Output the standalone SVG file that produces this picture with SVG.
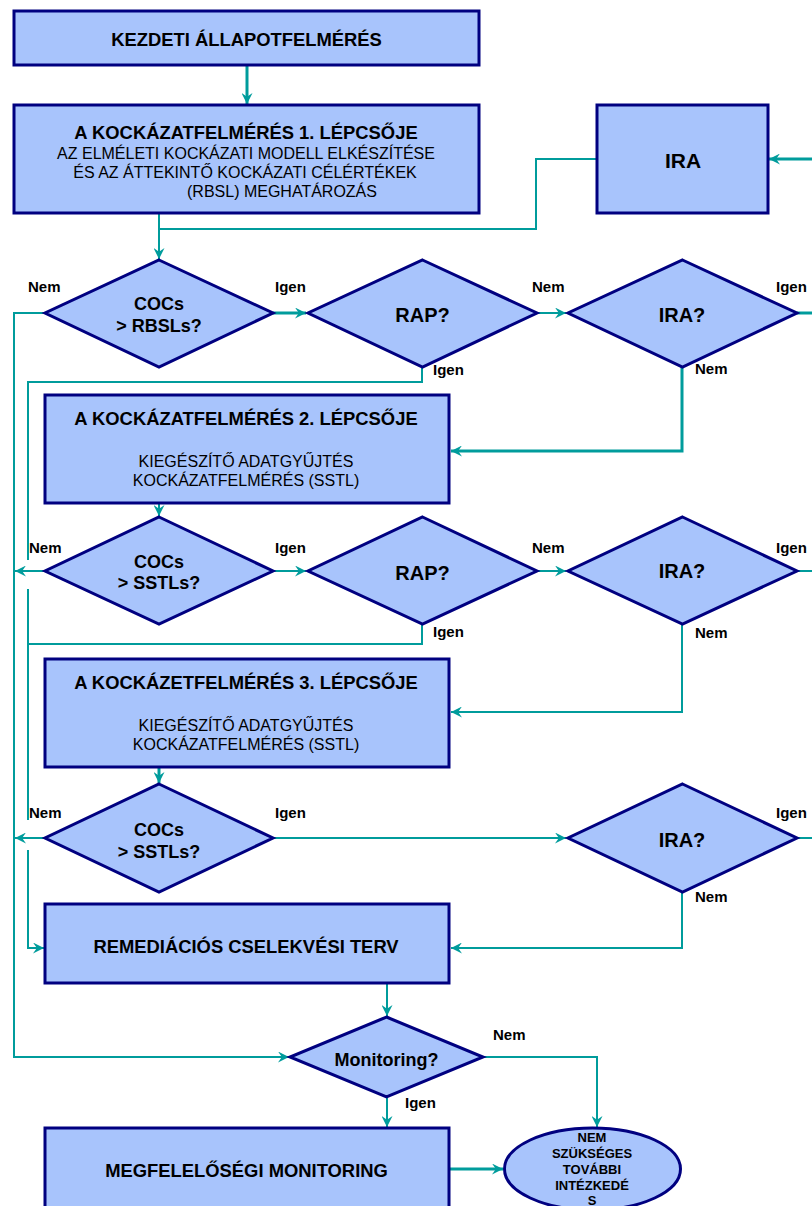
<svg xmlns="http://www.w3.org/2000/svg" width="812" height="1206" viewBox="0 0 812 1206">
  <style>
    .box { fill: #A8C4FC; stroke: #000080; stroke-width: 3; }
    .dia { fill: #A8C4FC; stroke: #000080; stroke-width: 3; stroke-linejoin: miter; }
    .ln { fill: none; stroke: #009C9C; stroke-width: 2; }
    .lnb { fill: none; stroke: #009C9C; stroke-width: 3; }
    .arr { marker-end: url(#ah); }
    text { font-family: "Liberation Sans", Arial, sans-serif; fill: #000; }
    .t { font-size: 18.4px; font-weight: bold; text-anchor: middle; }
    .s { font-size: 16px; text-anchor: middle; }
    .q { font-size: 18px; font-weight: bold; text-anchor: middle; }
    .qb { font-size: 20px; font-weight: bold; text-anchor: middle; }
    .lb { font-size: 15px; font-weight: bold; }
    .e { font-size: 13px; font-weight: bold; text-anchor: middle; }
  </style>
  <defs>
    <marker id="ah" markerUnits="userSpaceOnUse" markerWidth="11" markerHeight="11" viewBox="0 0 10 10" refX="10" refY="5" orient="auto">
      <path d="M0,0 L10,5 L0,10 L3.5,5 Z" fill="#009C9C"/>
    </marker>
  </defs>

  <rect width="812" height="1206" fill="#FFFFFF"/>

  <!-- connectors -->
  <g id="connectors">
    <path class="lnb arr" d="M247,65 V104"/>
    <path class="ln arr" d="M159,213 V259"/>
    <path class="ln" d="M597,159 H536 V229 H159"/>
    <path class="lnb arr" d="M812,159 H769"/>

    <!-- row 1 -->
    <path class="lnb arr" d="M273,313 H306"/>
    <path class="ln arr" d="M537,313 H566"/>
    <path class="lnb" d="M797,313 H812"/>
    <path class="ln arr" d="M45,313 H14 V1057 H289"/>
    <path class="ln" d="M422,367 V382 H28 V560"/>
    <path class="ln" d="M28,589 V820"/>
    <path class="ln arr" d="M28,850 V948 H44"/>
    <path class="lnb arr" d="M682,367 V451 H451"/>

    <!-- row 2 -->
    <path class="ln arr" d="M159,503 V516"/>
    <path class="ln arr" d="M45,571 H15"/>
    <path class="ln arr" d="M273,571 H306"/>
    <path class="ln arr" d="M537,571 H566"/>
    <path class="ln" d="M797,571 H812"/>
    <path class="ln" d="M422,624 V644 H28"/>
    <path class="ln arr" d="M682,624 V712 H451"/>

    <!-- row 3 -->
    <path class="lnb arr" d="M159,767 V783"/>
    <path class="ln arr" d="M45,838 H15"/>
    <path class="ln arr" d="M273,838 H566"/>
    <path class="ln" d="M797,838 H812"/>
    <path class="ln arr" d="M682,892 V948 H451"/>

    <!-- monitoring -->
    <path class="ln arr" d="M387,983 V1016"/>
    <path class="ln arr" d="M483,1057 H597 V1127"/>
    <path class="ln arr" d="M387,1097 V1127"/>
    <path class="lnb arr" d="M449,1169 H503"/>
  </g>

  <!-- nodes -->
  <g id="kezdeti">
    <rect class="box" x="14" y="11" width="465" height="54"/>
    <text class="t" x="246.5" y="45.5">KEZDETI ÁLLAPOTFELMÉRÉS</text>
  </g>

  <g id="lepcso1">
    <rect class="box" x="14" y="105" width="465" height="108"/>
    <text class="t" x="246" y="138.5">A KOCKÁZATFELMÉRÉS 1. LÉPCSŐJE</text>
    <text class="s" x="246" y="159">AZ ELMÉLETI KOCKÁZATI MODELL ELKÉSZÍTÉSE</text>
    <text class="s" x="245" y="178">ÉS AZ ÁTTEKINTŐ KOCKÁZATI CÉLÉRTÉKEK</text>
    <text class="s" x="282" y="197">(RBSL) MEGHATÁROZÁS</text>
  </g>

  <g id="ira-box">
    <rect class="box" x="597" y="105" width="171" height="108"/>
    <text class="qb" x="683" y="168" style="font-size:21px">IRA</text>
  </g>

  <!-- decision row 1 -->
  <g id="cocs-rbsl">
    <polygon class="dia" points="159,260 273,313 159,367 45,313"/>
    <text class="q" x="159" y="309.5">COCs</text>
    <text class="q" x="159" y="331.5">&gt; RBSLs?</text>
  </g>
  <g id="rap1">
    <polygon class="dia" points="422.5,260 537,313 422.5,367 308,313"/>
    <text class="qb" x="422.5" y="322">RAP?</text>
  </g>
  <g id="ira1">
    <polygon class="dia" points="682.5,260 797,313 682.5,367 568,313"/>
    <text class="qb" x="682" y="322">IRA?</text>
  </g>

  <g id="lepcso2">
    <rect class="box" x="45" y="395" width="404" height="108"/>
    <text class="t" x="246" y="424.5">A KOCKÁZATFELMÉRÉS 2. LÉPCSŐJE</text>
    <text class="s" x="246" y="467">KIEGÉSZÍTŐ ADATGYŰJTÉS</text>
    <text class="s" x="246" y="486">KOCKÁZATFELMÉRÉS (SSTL)</text>
  </g>

  <!-- decision row 2 -->
  <g id="cocs-sstl1">
    <polygon class="dia" points="159,517 273,571 159,624 45,571"/>
    <text class="q" x="159" y="567.5">COCs</text>
    <text class="q" x="159" y="588.5">&gt; SSTLs?</text>
  </g>
  <g id="rap2">
    <polygon class="dia" points="422.5,517 537,571 422.5,624 308,571"/>
    <text class="qb" x="422.5" y="580">RAP?</text>
  </g>
  <g id="ira2">
    <polygon class="dia" points="682.5,517 797,571 682.5,624 568,571"/>
    <text class="qb" x="682" y="578">IRA?</text>
  </g>

  <g id="lepcso3">
    <rect class="box" x="45" y="659" width="404" height="108"/>
    <text class="t" x="246" y="688.5">A KOCKÁZETFELMÉRÉS 3. LÉPCSŐJE</text>
    <text class="s" x="246" y="731">KIEGÉSZÍTŐ ADATGYŰJTÉS</text>
    <text class="s" x="246" y="750">KOCKÁZATFELMÉRÉS (SSTL)</text>
  </g>

  <!-- decision row 3 -->
  <g id="cocs-sstl2">
    <polygon class="dia" points="159,784 273,838 159,892 45,838"/>
    <text class="q" x="159" y="835.5">COCs</text>
    <text class="q" x="159" y="857.5">&gt; SSTLs?</text>
  </g>
  <g id="ira3">
    <polygon class="dia" points="682.5,784 797,838 682.5,892 568,838"/>
    <text class="qb" x="682" y="847">IRA?</text>
  </g>

  <g id="remediacio">
    <rect class="box" x="45" y="904" width="404" height="79"/>
    <text class="t" x="246" y="952.5">REMEDIÁCIÓS CSELEKVÉSI TERV</text>
  </g>

  <g id="monitoring-q">
    <polygon class="dia" points="386.5,1017 483,1057 386.5,1097 290,1057"/>
    <text class="q" x="386.5" y="1065.5">Monitoring?</text>
  </g>

  <g id="megfeleloseg">
    <rect class="box" x="45" y="1128" width="404" height="90"/>
    <text class="t" x="246.5" y="1176.5">MEGFELELŐSÉGI MONITORING</text>
  </g>

  <g id="nincs-teendo">
    <ellipse class="box" cx="592.5" cy="1169" rx="88" ry="41"/>
    <text class="e" x="592" y="1141.5">NEM</text>
    <text class="e" x="592" y="1157.5">SZÜKSÉGES</text>
    <text class="e" x="592" y="1173.5">TOVÁBBI</text>
    <text class="e" x="592" y="1189.5">INTÉZKEDÉ</text>
    <text class="e" x="592" y="1204.5">S</text>
  </g>

  <!-- branch labels -->
  <g id="labels">
    <text class="lb" x="28" y="292">Nem</text>
    <text class="lb" x="275" y="292">Igen</text>
    <text class="lb" x="532" y="292">Nem</text>
    <text class="lb" x="776" y="292">Igen</text>
    <text class="lb" x="433" y="375">Igen</text>
    <text class="lb" x="695" y="374">Nem</text>

    <text class="lb" x="29" y="553">Nem</text>
    <text class="lb" x="275" y="553">Igen</text>
    <text class="lb" x="532" y="553">Nem</text>
    <text class="lb" x="776" y="553">Igen</text>
    <text class="lb" x="433" y="637">Igen</text>
    <text class="lb" x="695" y="638">Nem</text>

    <text class="lb" x="29" y="818">Nem</text>
    <text class="lb" x="275" y="818">Igen</text>
    <text class="lb" x="776" y="818">Igen</text>
    <text class="lb" x="695" y="902">Nem</text>

    <text class="lb" x="493" y="1040">Nem</text>
    <text class="lb" x="405" y="1108">Igen</text>
  </g>
</svg>
